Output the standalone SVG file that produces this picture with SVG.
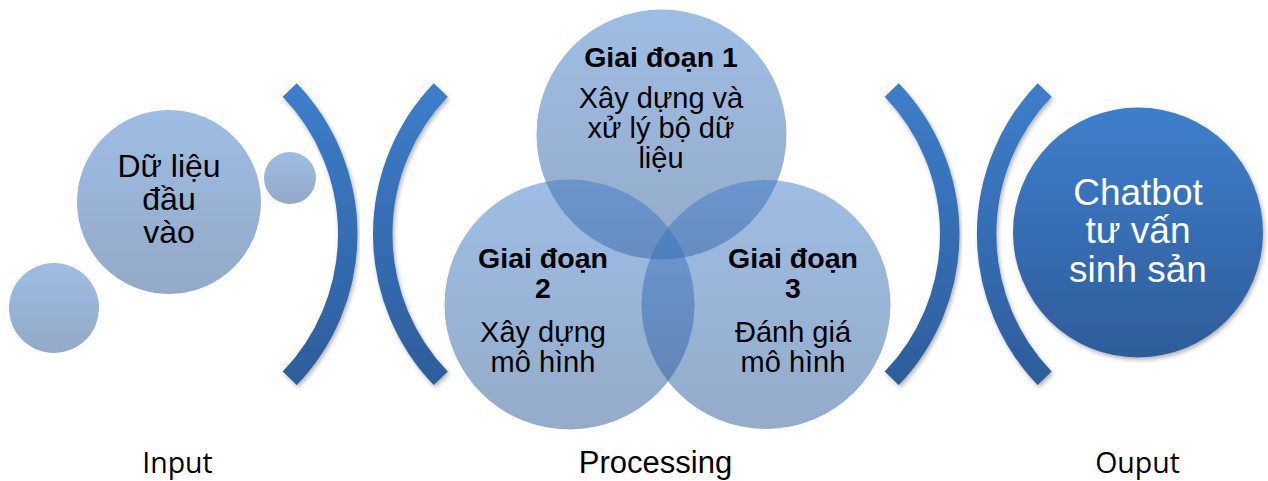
<svg xmlns="http://www.w3.org/2000/svg" width="1268" height="481" viewBox="0 0 1268 481">
<style>
.t{font-family:"Liberation Sans",Arial,sans-serif;fill:#000;text-anchor:middle}
.b{font-weight:bold;font-size:28.5px}
.r{font-size:29px}
.big{font-size:32px}
.w{font-family:"Liberation Sans",Arial,sans-serif;fill:#fff;text-anchor:middle;font-size:37px}
.lab{font-family:"Open Sans","Noto Sans",sans-serif;font-size:28.5px;fill:#000;text-anchor:middle}
.br{fill:none;stroke:url(#gBr);stroke-width:19.5;stroke-linecap:butt;filter:url(#sh)}
.ven{fill:url(#gVen)}
.bub{fill:url(#gBub)}
</style>
<defs>
<linearGradient id="gBr" gradientUnits="userSpaceOnUse" x1="0" y1="83" x2="0" y2="386">
<stop offset="0" stop-color="#3d7ecb"/><stop offset="1" stop-color="#2d5d9b"/>
</linearGradient>
<linearGradient id="gVen" x1="0" y1="0" x2="0" y2="1">
<stop offset="0" stop-color="#3d7bc9" stop-opacity="0.5"/><stop offset="1" stop-color="#295793" stop-opacity="0.5"/>
</linearGradient>
<linearGradient id="gBub" x1="0" y1="0" x2="0" y2="1">
<stop offset="0" stop-color="#9ebde4"/><stop offset="1" stop-color="#93a9c7"/>
</linearGradient>
<linearGradient id="gOut" x1="0" y1="0" x2="0" y2="1">
<stop offset="0" stop-color="#3e7fcc"/><stop offset="1" stop-color="#2e5c99"/>
</linearGradient>
<filter id="sh" x="-20%" y="-20%" width="140%" height="140%">
<feDropShadow dx="1.5" dy="2.5" stdDeviation="2" flood-color="#000" flood-opacity="0.3"/>
</filter>
</defs>

<g id="input-bubbles">
<circle id="bubble-small-left" class="bub" cx="54" cy="308" r="45"/>
<circle id="bubble-small-right" class="bub" cx="290" cy="178" r="26"/>
<g id="node-input">
<circle class="bub" cx="169" cy="202" r="92"/>
<text class="t big" x="169" y="177">Dữ liệu</text>
<text class="t big" x="169" y="210">đầu</text>
<text class="t big" x="169" y="243">vào</text>
</g>
</g>

<g id="connectors">
<path class="br" d="M289.7,90 A208,208 0 0 1 289.7,378.3"/>
<path class="br" d="M440.8,90 A208,208 0 0 0 440.8,378.3"/>
<path class="br" d="M891.7,90 A208,208 0 0 1 891.7,378.3"/>
<path class="br" d="M1044.7,90 A208,208 0 0 0 1044.7,378.3"/>
</g>

<g id="venn">
<circle id="circle-1" class="ven" cx="661.5" cy="134.5" r="125"/>
<circle id="circle-2" class="ven" cx="569.5" cy="304.5" r="125"/>
<circle id="circle-3" class="ven" cx="766" cy="304.5" r="124.5"/>
</g>

<g id="node-stage1">
<text class="t b" x="661" y="66.5">Giai đoạn 1</text>
<text class="t r" x="661" y="108">Xây dựng và</text>
<text class="t r" x="661" y="138">xử lý bộ dữ</text>
<text class="t r" x="661" y="168">liệu</text>
</g>
<g id="node-stage2">
<text class="t b" x="543" y="268">Giai đoạn</text>
<text class="t b" x="543" y="298">2</text>
<text class="t r" x="543" y="342">Xây dựng</text>
<text class="t r" x="543" y="372">mô hình</text>
</g>
<g id="node-stage3">
<text class="t b" x="793" y="268">Giai đoạn</text>
<text class="t b" x="793" y="298">3</text>
<text class="t r" x="793" y="342">Đánh giá</text>
<text class="t r" x="793" y="372">mô hình</text>
</g>

<g id="node-output">
<circle cx="1138" cy="232.5" r="125" fill="url(#gOut)" filter="url(#sh)"/>
<text class="w" x="1138" y="205">Chatbot</text>
<text class="w" x="1138" y="243">tư vấn</text>
<text class="w" x="1138" y="282">sinh sản</text>
</g>

<g id="labels">
<text class="lab" x="177.5" y="473">Input</text>
<text class="t" style="font-size:31px" x="655.5" y="473">Processing</text>
<text class="lab" x="1137.5" y="473">Ouput</text>
</g>
</svg>
